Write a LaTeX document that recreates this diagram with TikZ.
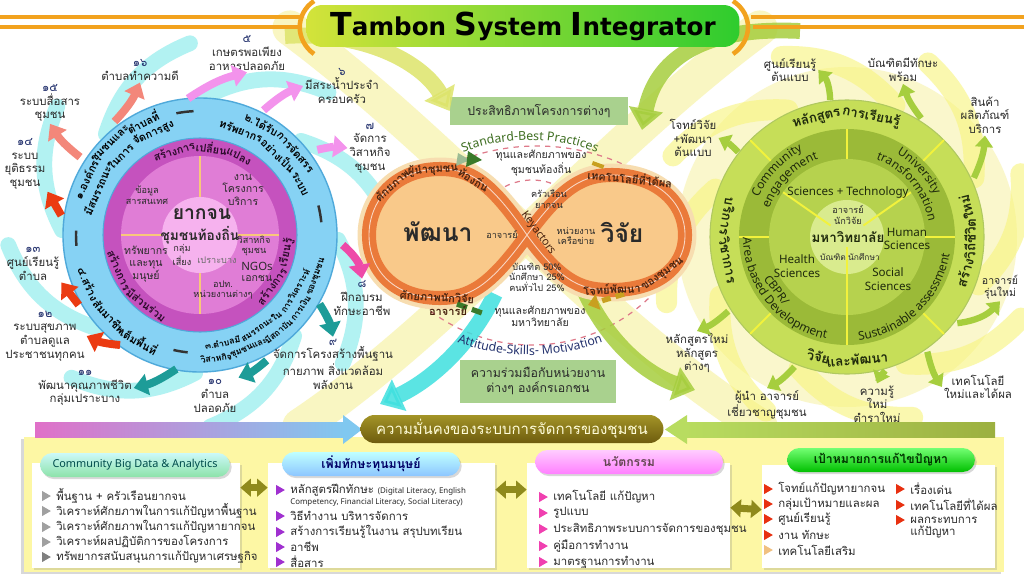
\documentclass[tikz,border=0pt]{standalone}
\usepackage{fontspec}
\setmainfont{Noto Sans}
\newfontfamily\thai[Script=Thai]{Loma}
\newfontfamily\titlefont{DejaVu Sans}
\usetikzlibrary{positioning, calc, arrows.meta, decorations.text, shapes.geometric, shadows}

\definecolor{skyring}{HTML}{86D2F4}
\definecolor{skyedge}{HTML}{4FA9DA}
\definecolor{magring}{HTML}{C552BE}
\definecolor{maginner}{HTML}{E07DD6}
\definecolor{magcore}{HTML}{F6B2EE}
\definecolor{quadline}{HTML}{F8C87A}
\definecolor{lineorange}{HTML}{F2A21E}
\definecolor{titleleft}{HTML}{D3E33A}
\definecolor{titleright}{HTML}{2ECC2E}
\definecolor{ringout}{HTML}{C6DE58}
\definecolor{ringdark}{HTML}{9BBA38}
\definecolor{ringmid}{HTML}{B6D24E}
\definecolor{ringcore}{HTML}{D9EB8E}
\definecolor{ringline}{HTML}{F2F23C}
\definecolor{ringink}{HTML}{1F2A0C}
\definecolor{leafgreen}{HTML}{A6CE3E}
\definecolor{limeband}{HTML}{DDE46A}
\definecolor{infband}{HTML}{EA7A3A}
\definecolor{inffill}{HTML}{F9C98A}
\definecolor{infglow}{HTML}{F7DDB0}
\definecolor{paleyellow}{HTML}{F6F19A}
\definecolor{swirlcyan}{HTML}{3FE0DF}
\definecolor{salmon}{HTML}{F3877A}
\definecolor{hotred}{HTML}{EB3B12}
\definecolor{arrteal}{HTML}{1D9C98}
\definecolor{hotpink}{HTML}{EE4AA8}
\definecolor{lilac}{HTML}{F393EC}
\definecolor{navy}{HTML}{24326E}
\definecolor{darktext}{HTML}{2A2A2A}
\definecolor{maginkk}{HTML}{2B0A2A}
\definecolor{bandbrown}{HTML}{4A2410}
\definecolor{boxgreen}{HTML}{A9D18E}
\definecolor{stdgreen}{HTML}{3F6F22}
\definecolor{dashpink}{HTML}{DE7A8A}
\definecolor{darkleaf}{HTML}{3A7A2A}
\definecolor{goldbar}{HTML}{C8A020}
\definecolor{panelyellow}{HTML}{FDF7A4}
\definecolor{panelolive}{HTML}{8F8A1C}
\definecolor{olivetop}{HTML}{A39427}
\definecolor{olivebottom}{HTML}{6E5C0E}
\definecolor{stripPink}{HTML}{E070C8}
\definecolor{stripBlue}{HTML}{80C8F0}
\definecolor{stripGreen}{HTML}{B8DC60}
\definecolor{stripOlive}{HTML}{9CB040}
\definecolor{bulgray}{HTML}{A0A0A0}
\definecolor{bulpurple}{HTML}{A030D0}
\definecolor{bulpink}{HTML}{F040B0}
\definecolor{bulred}{HTML}{E83010}
\definecolor{bultan}{HTML}{F0C080}

\newcommand{\outtext}[6][]{\node[ringtext, #1, rotate = #4 - 90] (#2) at ($(#3) + (#4:#5)$) {#6};}
\newcommand{\intext}[6][]{\node[ringtext, #1, rotate = #4 + 90] (#2) at ($(#3) + (#4:#5)$) {#6};}
\newcommand{\infinitypath}{(C) .. controls (490, 395) and (470, 407) .. (440, 407) .. controls (395, 407) and (369, 375) .. (369, 341) .. controls (369, 305) and (395, 278) .. (440, 278) .. controls (470, 278) and (490, 290) .. (C) .. controls (564, 392) and (585, 401) .. (612, 401) .. controls (655, 401) and (685, 375) .. (685, 341) .. controls (685, 307) and (655, 286) .. (612, 286) .. controls (585, 286) and (564, 290) .. (C) -- cycle}

\tikzset{
    every node/.style = {align = center, inner sep = 1pt},
    th/.style = {font = \thai\fontsize{6.5}{7.8}\selectfont, text = darktext},
    thin/.style = {font = \thai\fontsize{6}{7}\selectfont, text = darktext},
    thsmall/.style = {font = \thai\fontsize{5.2}{6}\selectfont, text = darktext},
    ringtext/.style = {font = \thai\bfseries\fontsize{6.2}{7}\selectfont, text = black, inner sep = 0pt},
    tinyring/.style = {font = \thai\bfseries\fontsize{5}{6}\selectfont},
    bigring/.style = {font = \thai\bfseries\fontsize{7.6}{8}\selectfont, text = ringink},
    magtext/.style = {text = maginkk},
    bandtext/.style = {font = \thai\bfseries\fontsize{6.3}{7}\selectfont, text = bandbrown, inner sep = 0pt},
    engtext/.style = {font = \fontsize{6.6}{7.6}\selectfont, text = ringink},
    fat/.style = {line width = 4.5pt, > = {Triangle[length = 8pt, width = 12pt]}},
    slim/.style = {leafgreen, line width = 3.6pt, > = {Triangle[length = 6.5pt, width = 10pt]}},
    bandarrow/.style = {line width = 9pt, opacity = 0.85, > = {Triangle[length = 12pt, width = 19pt]}},
    swirl/.style = {swirlcyan, line width = 9pt, line cap = round, opacity = 0.4},
    yswirl/.style = {paleyellow!80!yellow, line width = 12pt, line cap = round, opacity = 0.6},
    swoosh/.style = {paleyellow, line width = 20pt, line cap = round, opacity = 0.6},
    divider/.style = {ringline, line width = 1.1pt},
    sepline/.style = {black!80, line width = 1.4pt},
    greenbox/.style = {fill = boxgreen, font = \thai\fontsize{7}{8.6}\selectfont, text = darktext},
    panel/.style = {fill = white, drop shadow = {opacity = 0.25, shadow xshift = 1pt, shadow yshift = -1pt}},
    pill/.style = {rounded corners = 7pt, minimum height = 0.48cm, drop shadow = {opacity = 0.3, shadow xshift = 1pt, shadow yshift = -1.2pt}},
    bul/.style = {isosceles triangle, isosceles triangle apex angle = 60, fill = #1, minimum size = 5pt, inner sep = 0pt},
    item/.style = {th, inner sep = 0.5pt},
    dbl/.style = {panelolive, line width = 4pt, > = {Triangle[length = 6pt, width = 10pt]}},
    titlebox/.style = {rounded corners = 9pt, left color = titleleft, right color = titleright, minimum width = 8.66cm, minimum height = 0.84cm, font = \titlefont\bfseries\fontsize{14}{16}\selectfont, text = black},
    olivebox/.style = {rounded corners = 8pt, top color = olivetop, bottom color = olivebottom, minimum width = 6.06cm, minimum height = 0.56cm, font = \thai\fontsize{8.5}{10}\selectfont, text = yellow!15}
}

\begin{document}
\begin{tikzpicture}[x = 0.02cm, y = 0.02cm]
    \useasboundingbox (0, 0) rectangle (1024, 576);
    \fill[white] (0, 0) rectangle (1024, 576);
    \coordinate (L) at (200, 341);
    \coordinate (R) at (847, 339);
    \coordinate (C) at (527, 341);

    \fill[paleyellow, opacity = 0.5] (R) circle (170);
    \draw[swoosh] (300, 150) .. controls (450, 250) and (600, 430) .. (760, 548);
    \draw[swoosh] (290, 548) .. controls (450, 430) and (600, 250) .. (760, 150);

    \draw[swirl] ($(L) + (178:138)$) to[bend left = 25] ($(L) + (138:192)$);
    \draw[swirl] ($(L) + (133:138)$) to[bend left = 25] ($(L) + (93:192)$);
    \draw[swirl] ($(L) + (88:138)$) to[bend left = 25] ($(L) + (48:192)$);
    \draw[swirl] ($(L) + (43:138)$) to[bend left = 25] ($(L) + (3:192)$);
    \draw[swirl] ($(L) + (-2:138)$) to[bend left = 25] ($(L) + (-42:192)$);
    \draw[swirl] ($(L) + (-47:138)$) to[bend left = 25] ($(L) + (-87:192)$);
    \draw[swirl] ($(L) + (-92:138)$) to[bend left = 25] ($(L) + (-132:192)$);
    \draw[swirl] ($(L) + (-137:138)$) to[bend left = 25] ($(L) + (-177:192)$);

    \draw[yswirl] ($(R) + (160:140)$) to[bend right = 25] ($(R) + (200:192)$);
    \draw[yswirl] ($(R) + (115:140)$) to[bend right = 25] ($(R) + (155:192)$);
    \draw[yswirl] ($(R) + (70:140)$) to[bend right = 25] ($(R) + (110:192)$);
    \draw[yswirl] ($(R) + (25:140)$) to[bend right = 25] ($(R) + (65:192)$);
    \draw[yswirl] ($(R) + (-20:140)$) to[bend right = 25] ($(R) + (20:185)$);
    \draw[yswirl] ($(R) + (-65:140)$) to[bend right = 25] ($(R) + (-25:192)$);
    \draw[yswirl] ($(R) + (-110:140)$) to[bend right = 25] ($(R) + (-70:192)$);
    \draw[yswirl] ($(R) + (-155:140)$) to[bend right = 25] ($(R) + (-115:192)$);

    \coordinate (dashtop) at (537, 218);
    \coordinate (dashlow) at (532, 400);
    \coordinate (dashmid) at (532, 337);
    \draw[dashpink, dashed, line width = 0.7pt] ($(dashtop) + (122:212)$) arc[start angle = 122, end angle = 58, radius = 212];
    \draw[dashpink, dashed, line width = 0.7pt] ($(dashlow) + (226:169)$) arc[start angle = 226, end angle = 314, radius = 169];
    \draw[dashpink, dashed, line width = 0.7pt] ($(dashmid) + (148:59)$) arc[start angle = 148, end angle = 32, radius = 59];

    \node[greenbox, minimum width = 3.56cm, minimum height = 0.56cm] (effbox) at (539, 465) {ประสิทธิภาพโครงการต่างๆ};
    \node[greenbox, minimum width = 3.14cm, minimum height = 0.86cm] (coopbox) at (538, 195) {ความร่วมมือกับหน่วยงาน\\ต่างๆ องค์กรเอกชน};

    \coordinate (tlstart) at (285, 540);
    \coordinate (trstart) at (800, 545);
    \coordinate (trend) at (642, 446);
    \coordinate (cyanstart) at (495, 282);
    \coordinate (cyanend) at (380, 172);
    \coordinate (greenstart) at (585, 284);
    \coordinate (greenend) at (695, 186);
    \draw[bandarrow, ->, limeband] (tlstart) .. controls (370, 545) and (425, 510) .. (effbox.west);
    \draw[bandarrow, ->, leafgreen] (trstart) .. controls (700, 550) and (655, 515) .. (trend);
    \draw[bandarrow, ->, swirlcyan] (cyanstart) .. controls (470, 230) and (430, 195) .. (cyanend);
    \draw[bandarrow, ->, leafgreen] (greenstart) .. controls (610, 230) and (650, 200) .. (greenend);

    \draw[line width = 13pt, infglow] \infinitypath;
    \fill[inffill] \infinitypath;
    \draw[line width = 8pt, infband] \infinitypath;
    \draw[line width = 0.5pt, white, opacity = 0.7] \infinitypath;

    \coordinate (stdc) at (530, 254);
    \coordinate (attc) at (530, 437);
    \path[decorate, decoration = {text along path, text align = center, text = {|\bfseries\fontsize{7}{8}\selectfont\color{stdgreen}|Standard-Best Practices}}] ($(stdc) + (125:182)$) arc[start angle = 125, end angle = 55, radius = 182];
    \path[decorate, decoration = {text along path, text align = center, text = {|\bfseries\fontsize{7}{8}\selectfont\color{navy}|Attitude-Skills- Motivation}}] ($(attc) + (236:216)$) arc[start angle = 236, end angle = 304, radius = 216];

    \fill[darkleaf!50] (456, 410) -- (470, 416) -- (458, 423) -- cycle;
    \fill[darkleaf] (466, 409) -- (482, 416) -- (468, 425) -- cycle;
    \fill[goldbar, rotate around = {-20:(598, 411)}] (592, 409) rectangle (604, 413);
    \draw[darkleaf, line width = 3pt, dash pattern = on 6pt off 3pt] (457, 272) -- (482, 263);
    \draw[goldbar, line width = 3pt, dash pattern = on 5pt off 3pt, > = {Triangle[length = 6pt, width = 9pt]}, ->] (624, 282) -- (588, 271);

    \node[bandtext, rotate = 42] (leadA) at (392, 391) {ศักยภาพ};
    \node[bandtext, rotate = 4] (leadB) at (433, 406) {ผู้นำชุมชน};
    \node[bandtext, rotate = -32] (leadC) at (474, 397) {ท้องถิ่น};
    \node[bandtext, rotate = -3] (resA) at (437, 279) {ศักยภาพนักวิจัย};
    \node[bandtext] (resB) at (448, 265) {อาจารย์};
    \node[bandtext, rotate = -6] (tech) at (630, 398) {เทคโนโลยีที่ได้ผล};
    \node[bandtext, rotate = 3] (probA) at (612, 287) {โจทย์พัฒนา};
    \node[bandtext, rotate = 36] (probB) at (663, 301) {ของชุมชน};
    \node[font = \bfseries\fontsize{6.3}{8}\selectfont, text = bandbrown, rotate = -54] (key) at (538, 343) {Keyactors};
    \node[font = \thai\bfseries\fontsize{14}{15}\selectfont, text = darktext] (dev) at (438, 344) {พัฒนา};
    \node[font = \thai\bfseries\fontsize{14}{15}\selectfont, text = darktext] (rsch) at (622, 344) {วิจัย};
    \node[thsmall] (lect) at (502, 341) {อาจารย์};
    \node[thsmall] (poor) at (549, 377) {ครัวเรือน\\ยากจน};
    \node[thsmall] (agency) at (576, 340) {หน่วยงาน\\เครือข่าย};
    \node[thsmall] (ratio) at (537, 299) {บัณฑิต 50\%\\นักศึกษา 25\%\\คนทั่วไป 25\%};
    \node[thin] (capcom) at (541, 413) {ทุนและศักยภาพของ\\ชุมชนท้องถิ่น};
    \node[thin] (capuni) at (540, 260) {ทุนและศักยภาพของ\\มหาวิทยาลัย};

    \fill[skyring, draw = skyedge, line width = 0.8pt] (L) circle (137);
    \fill[magring, draw = skyedge, line width = 0.6pt] (L) circle (97);
    \fill[maginner] (L) circle (79);
    \draw[quadline, line width = 1pt] (200, 262) -- (200, 420);
    \draw[quadline, line width = 1pt] (121, 341) -- (279, 341);
    \fill[magcore] (L) circle (38);

    \outtext{loA}{L}{154}{127}{๑.องค์กร}
    \outtext{loB}{L}{134.5}{127}{ชุมชนและ}
    \outtext{loC}{L}{116.8}{127}{ตำบลที่}
    \outtext{liA}{L}{156.5}{112}{มีสมรรถนะ}
    \outtext{liB}{L}{135.2}{112}{ในการ}
    \outtext{liC}{L}{114.5}{112}{จัดการสูง}
    \outtext{loD}{L}{61}{127}{๒.ได้รับ}
    \outtext{loE}{L}{41}{127}{การจัดสรร}
    \outtext{liD}{L}{68.5}{112}{ทรัพยากร}
    \outtext{liE}{L}{45.5}{112}{อย่างเป็น}
    \outtext{liF}{L}{27}{112}{ระบบ}
    \intext[tinyring]{liG}{L}{-78.2}{110}{๓.ตำบลมี}
    \intext[tinyring]{liH}{L}{-56.2}{110}{สมรรถนะใน}
    \intext[tinyring]{liI}{L}{-30.5}{110}{การวิเคราะห์}
    \intext[tinyring]{loF}{L}{-82.5}{124}{วิสาหกิจ}
    \intext[tinyring]{loG}{L}{-66.6}{124}{ชุมชนและ}
    \intext[tinyring]{loH}{L}{-50.7}{124}{มีสถาบัน}
    \intext[tinyring]{loI}{L}{-36}{124}{การเงิน}
    \intext[tinyring]{loJ}{L}{-19.8}{124}{ของชุมชน}
    \intext{loK}{L}{203.7}{122}{๔.สร้าง}
    \intext{loL}{L}{222}{122}{สัมมาชีพ}
    \intext{loM}{L}{240.2}{122}{เต็มพื้นที่}
    \outtext[magtext]{lmA}{L}{107.2}{88}{สร้างการ}
    \outtext[magtext]{lmB}{L}{82.5}{88}{เปลี่ยน}
    \outtext[magtext]{lmC}{L}{63.7}{88}{แปลง}
    \intext[magtext]{lmD}{L}{203.5}{88}{สร้างการ}
    \intext[magtext]{lmE}{L}{232.5}{88}{มีส่วนร่วม}
    \intext[magtext]{lmF}{L}{-35.5}{88}{สร้างการ}
    \intext[magtext]{lmG}{L}{-11.7}{88}{เรียนรู้}

    \draw[sepline] ($(L) + (101:124)$) arc[start angle = 101, end angle = 93, radius = 124];
    \draw[sepline] ($(L) + (14:122)$) arc[start angle = 14, end angle = 6, radius = 122];
    \draw[sepline] ($(L) + (-96:118)$) arc[start angle = -96, end angle = -103, radius = 118];
    \draw[sepline] ($(L) + (185:124)$) arc[start angle = 185, end angle = 178, radius = 124];

    \node[font = \thai\bfseries\fontsize{11}{12}\selectfont, text = darktext] (poorA) at (202, 362) {ยากจน};
    \node[font = \thai\bfseries\fontsize{7.8}{9}\selectfont, text = darktext] (poorB) at (200, 341) {ชุมชนท้องถิ่น};
    \node[thsmall] (risk) at (182, 321) {กลุ่ม\\เสี่ยง};
    \node[thsmall, text = darktext!70] (fragile) at (217, 316) {เปราะบาง};
    \node[thsmall] (info) at (147, 381) {ข้อมูล\\สารสนเทศ};
    \node[thin] (work) at (243, 386) {งาน\\โครงการ\\บริการ};
    \node[thin] (human) at (146, 312) {ทรัพยากร\\และทุน\\มนุษย์};
    \node[thsmall] (enter) at (254, 330) {วิสาหกิจ\\ชุมชน};
    \node[font = \fontsize{6.5}{8}\selectfont, text = darktext] (ngo) at (257, 310) {NGOs};
    \node[thin] (priv) at (257, 298) {เอกชน};
    \node[thsmall] (local) at (223, 286) {อปท.\\หน่วยงานต่างๆ};

    \node[th] (l16) at (140, 506) {\textcolor{navy}{๑๖}\\ตำบลทำความดี};
    \node[th] (l5) at (247, 523) {\textcolor{navy}{๕}\\เกษตรพอเพียง\\อาหารปลอดภัย};
    \node[th] (l6) at (342, 490) {\textcolor{navy}{๖}\\มีสระน้ำประจำ\\ครอบครัว};
    \node[th] (l7) at (370, 428) {\textcolor{navy}{๗}\\จัดการ\\วิสาหกิจ\\ชุมชน};
    \node[th] (l15) at (50, 473) {\textcolor{navy}{๑๕}\\ระบบสื่อสาร\\ชุมชน};
    \node[th] (l14) at (25, 412) {\textcolor{navy}{๑๔}\\ระบบ\\ยุติธรรม\\ชุมชน};
    \node[th] (l13) at (33, 312) {\textcolor{navy}{๑๓}\\ศูนย์เรียนรู้\\ตำบล};
    \node[th] (l12) at (45, 240) {\textcolor{navy}{๑๒}\\ระบบสุขภาพ\\ตำบลดูแล\\ประชาชนทุกคน};
    \node[th] (l11) at (85, 188) {\textcolor{navy}{๑๑}\\พัฒนาคุณภาพชีวิต\\กลุ่มเปราะบาง};
    \node[th] (l10) at (215, 180) {\textcolor{navy}{๑๐}\\ตำบล\\ปลอดภัย};
    \node[th] (l9) at (333, 212) {\textcolor{navy}{๙}\\จัดการโครงสร้างพื้นฐาน\\กายภาพ สิ่งแวดล้อม\\พลังงาน};
    \node[th] (l8) at (362, 278) {\textcolor{navy}{๘}\\ฝึกอบรม\\ทักษะอาชีพ};

    \coordinate (t16) at ($(L) + (127:142)$);
    \coordinate (t15) at ($(L) + (147:143)$);
    \coordinate (t14) at ($(L) + (172:140)$);
    \coordinate (t13) at ($(L) + (210:140)$);
    \coordinate (t12) at ($(L) + (234:136)$);
    \coordinate (t11) at ($(L) + (-100:136)$);
    \coordinate (t10) at ($(L) + (-62:142)$);
    \coordinate (t9) at ($(L) + (-30:138)$);
    \coordinate (t8) at ($(L) + (-4:143)$);
    \coordinate (t7) at ($(L) + (36:145)$);
    \coordinate (t6) at ($(L) + (63:140)$);
    \coordinate (t5) at ($(L) + (95:137)$);
    \draw[fat, ->, salmon] (t16) to[bend right = 10] (l16.south);
    \draw[fat, ->, salmon] (t15) to[bend left = 10] (l15.south);
    \draw[fat, ->, hotred] (t14) -- (l14.south east);
    \draw[fat, ->, hotred] (t13) -- (l13.south east);
    \draw[fat, ->, hotred] (t12) to[bend left = 10] (l12.east);
    \draw[fat, ->, arrteal] (t11) to[bend left = 10] (l11.east);
    \draw[fat, ->, arrteal] (t10) to[bend left = 10] (l10.north east);
    \draw[fat, ->, arrteal] (t9) to[bend left = 10] (l9.north);
    \draw[fat, ->, hotpink] (t8) to[bend left = 20] (l8.north);
    \draw[fat, ->, lilac] (t7) to[bend left = 10] (l7.west);
    \draw[fat, ->, lilac] (t6) to[bend left = 10] (l6.west);
    \draw[fat, ->, lilac] (t5) to[bend left = 10] (l5.south);

    \fill[ringout, draw = ringdark!80, line width = 0.6pt] (R) circle (137);
    \fill[ringdark] (R) circle (108);
    \fill[ringmid] (R) circle (78);
    \fill[ringcore] (R) circle (37);
    \draw[divider] ($(R) + (45:108)$) -- ($(R) + (45:137)$);
    \draw[divider] ($(R) + (135:108)$) -- ($(R) + (135:137)$);
    \draw[divider] ($(R) + (225:108)$) -- ($(R) + (225:137)$);
    \draw[divider] ($(R) + (315:108)$) -- ($(R) + (315:137)$);
    \draw[divider] ($(R) + (90:78)$) -- ($(R) + (90:108)$);
    \draw[divider] ($(R) + (180:78)$) -- ($(R) + (180:108)$);
    \draw[divider] ($(R) + (0:78)$) -- ($(R) + (0:108)$);
    \draw[divider] ($(R) + (270:10)$) -- ($(R) + (270:108)$);
    \draw[divider] ($(R) + (145:20)$) -- ($(R) + (145:78)$);
    \draw[divider] ($(R) + (35:20)$) -- ($(R) + (35:78)$);

    \outtext[bigring]{roA}{R}{104.4}{123}{หลักสูตร}
    \outtext[bigring]{roB}{R}{78.6}{123}{การเรียนรู้}
    \intext[bigring]{roC}{R}{170.4}{121}{บริการ}
    \intext[bigring]{roD}{R}{191}{121}{วิชาการ}
    \intext[bigring]{roE}{R}{-17}{123}{สร้าง}
    \intext[bigring]{roF}{R}{-0.8}{123}{วิถีชีวิต}
    \intext[bigring]{roG}{R}{14}{123}{ใหม่}
    \intext[bigring]{roH}{R}{-103.4}{123}{วิจัย}
    \intext[bigring]{roI}{R}{-85.2}{123}{และพัฒนา}

    \path[decorate, decoration = {text along path, text align = center, text = {|\bfseries\fontsize{6.8}{7.5}\selectfont\color{ringink}|Community}}] ($(R) + (166:97)$) arc[start angle = 166, end angle = 107, radius = 97];
    \path[decorate, decoration = {text along path, text align = center, text = {|\bfseries\fontsize{6.8}{7.5}\selectfont\color{ringink}|engagement}}] ($(R) + (170:83)$) arc[start angle = 170, end angle = 100, radius = 83];
    \path[decorate, decoration = {text along path, text align = center, text = {|\bfseries\fontsize{6.8}{7.5}\selectfont\color{ringink}|University}}] ($(R) + (75:97)$) arc[start angle = 75, end angle = 10, radius = 97];
    \path[decorate, decoration = {text along path, text align = center, text = {|\bfseries\fontsize{6.8}{7.5}\selectfont\color{ringink}|transformation}}] ($(R) + (85:83)$) arc[start angle = 85, end angle = -5, radius = 83];
    \path[decorate, decoration = {text along path, text align = center, text = {|\bfseries\fontsize{6.8}{7.5}\selectfont\color{ringink}|Area based Development}}] ($(R) + (170:104)$) arc[start angle = 170, end angle = 269, radius = 104];
    \path[decorate, decoration = {text along path, text align = center, text = {|\bfseries\fontsize{6.8}{7.5}\selectfont\color{ringink}|Sustainable assessment}}] ($(R) + (-98:104)$) arc[start angle = -98, end angle = 5, radius = 104];
    \node[font = \bfseries\fontsize{6.6}{7.5}\selectfont, text = ringink, rotate = -53] (cbpr) at ($(R) + (217:88)$) {CBPR/};

    \node[engtext] (scitech) at (848, 384) {Sciences + Technology};
    \node[engtext] (health) at (797, 310) {Health\\Sciences};
    \node[engtext] (humsci) at (907, 337) {Human\\Sciences};
    \node[engtext] (socsci) at (888, 297) {Social\\Sciences};
    \node[thsmall] (staff) at (848, 361) {อาจารย์\\นักวิจัย};
    \node[font = \thai\bfseries\fontsize{7.6}{9}\selectfont, text = ringink] (univ) at (848, 339) {มหาวิทยาลัย};
    \node[font = \thai\fontsize{4.8}{6}\selectfont, text = darktext] (grad) at (833, 319) {บัณฑิต};
    \node[font = \thai\fontsize{4.8}{6}\selectfont, text = darktext] (stud) at (864, 319) {นักศึกษา};

    \node[th] (r1) at (790, 506) {ศูนย์เรียนรู้\\ต้นแบบ};
    \node[th] (r2) at (903, 506) {บัณฑิตมีทักษะ\\พร้อม};
    \node[th] (r3) at (985, 461) {สินค้า\\ผลิตภัณฑ์\\บริการ};
    \node[th] (r4) at (693, 438) {โจทย์วิจัย\\+พัฒนา\\ต้นแบบ};
    \node[th, font = \thai\fontsize{6}{7}\selectfont] (r5) at (1000, 289) {อาจารย์\\รุ่นใหม่};
    \node[th] (r6) at (978, 189) {เทคโนโลยี\\ใหม่และได้ผล};
    \node[th] (r7) at (877, 172) {ความรู้\\ใหม่\\ตำราใหม่};
    \node[th] (r8) at (767, 171) {ผู้นำ อาจารย์\\เชี่ยวชาญชุมชน};
    \node[th] (r9) at (697, 223) {หลักสูตรใหม่\\หลักสูตร\\ต่างๆ};

    \coordinate (tr1) at ($(R) + (97:138)$);
    \coordinate (tr2) at ($(R) + (58:140)$);
    \coordinate (tr3) at ($(R) + (25:140)$);
    \coordinate (tr4) at ($(R) + (142:138)$);
    \coordinate (tr5) at ($(R) + (-38:140)$);
    \coordinate (tr6) at ($(R) + (-55:140)$);
    \coordinate (tr7) at ($(R) + (-74:139)$);
    \coordinate (tr8) at ($(R) + (-112:140)$);
    \coordinate (tr9) at ($(R) + (-148:140)$);
    \draw[slim, ->] (tr1) to[bend right = 20] (r1.east);
    \draw[slim, ->] (tr2) to[bend left = 10] (r2.south);
    \draw[slim, ->] (tr3) to[bend right = 10] (r3.south);
    \draw[slim, ->] (tr4) to[bend right = 10] (r4.east);
    \draw[slim, ->] (tr5) to[bend right = 20] (r5.south);
    \draw[slim, ->] (tr6) to[bend right = 10] (r6.west);
    \draw[slim, ->] (tr7) to[bend right = 10] (r7.north);
    \draw[slim, ->] (tr8) to[bend left = 10] (r8.north);
    \draw[slim, ->] (tr9) to[bend left = 10] (r9.north);

    \fill[panelyellow, drop shadow = {opacity = 0.3, shadow xshift = -1.5pt, shadow yshift = -1pt}] (24, 4) rectangle (1004, 139);
    \shade[left color = stripPink, right color = stripBlue] (35, 139) rectangle (345, 154);
    \fill[stripBlue] (343, 161) -- (362, 146.5) -- (343, 132) -- cycle;
    \shade[left color = stripGreen, right color = stripOlive] (685, 139) rectangle (995, 154);
    \fill[stripGreen] (687, 161) -- (665, 146.5) -- (687, 132) -- cycle;
    \node[olivebox] (secure) at (512, 147) {ความมั่นคงของระบบการจัดการของชุมชน};

    \node[panel, minimum width = 4.16cm, minimum height = 2.1cm] (box1) at (136, 60.5) {};
    \node[panel, minimum width = 4.54cm, minimum height = 2.1cm] (box2) at (381.5, 60.5) {};
    \node[panel, minimum width = 4.06cm, minimum height = 2.1cm] (box3) at (628.5, 60.5) {};
    \node[panel, minimum width = 4.66cm, minimum height = 2.06cm] (box4) at (878.5, 59.5) {};

    \node[pill, top color = teal!25!cyan!20, bottom color = teal!50!green!45, minimum width = 3.8cm, font = \bfseries\fontsize{6.2}{7}\selectfont, text = teal!60!black] (pill1) at (135, 111) {Community Big Data \& Analytics};
    \node[pill, top color = cyan!25, bottom color = cyan!50!blue!45, minimum width = 3.56cm, font = \thai\bfseries\fontsize{7}{8}\selectfont, text = blue!40!black] (pill2) at (371, 112) {เพิ่มทักษะทุนมนุษย์};
    \node[pill, top color = magenta!20, bottom color = magenta!50, minimum width = 3.76cm, font = \thai\bfseries\fontsize{7}{8}\selectfont, text = magenta!30!black] (pill3) at (629, 114) {นวัตกรรม};
    \node[pill, top color = green!55, bottom color = green!75!black, minimum width = 3.76cm, font = \thai\bfseries\fontsize{7}{8}\selectfont, text = green!20!black] (pill4) at (881, 116) {เป้าหมายการแก้ไขปัญหา};

    \node[bul = bulgray] (b11) at (45, 80) {};
    \node[item, right = 2pt of b11] (i11) {พื้นฐาน + ครัวเรือนยากจน};
    \node[bul = bulgray] (b12) at (45, 65) {};
    \node[item, right = 2pt of b12] (i12) {วิเคราะห์ศักยภาพในการแก้ปัญหาพื้นฐาน};
    \node[bul = bulgray] (b13) at (45, 49) {};
    \node[item, right = 2pt of b13] (i13) {วิเคราะห์ศักยภาพในการแก้ปัญหายากจน};
    \node[bul = bulgray] (b14) at (45, 34) {};
    \node[item, right = 2pt of b14] (i14) {วิเคราะห์ผลปฏิบัติการของโครงการ};
    \node[bul = gray] (b15) at (45, 19) {};
    \node[item, right = 2pt of b15] (i15) {ทรัพยากรสนับสนุนการแก้ปัญหาเศรษฐกิจ};

    \node[bul = bulpurple] (b21) at (279, 86) {};
    \node[item, right = 2pt of b21] (i21) {หลักสูตรฝึกทักษะ {\rmfamily\fontsize{4.5}{5.5}\selectfont (Digital Literacy, English}};
    \node[item, font = \rmfamily\fontsize{4.5}{5.5}\selectfont, anchor = north west] (i21b) at (i21.south west) {Competency, Financial Literacy, Social Literacy)};
    \node[bul = bulpurple] (b22) at (279, 60) {};
    \node[item, right = 2pt of b22] (i22) {วิธีทำงาน บริหารจัดการ};
    \node[bul = bulpurple] (b23) at (279, 44) {};
    \node[item, right = 2pt of b23] (i23) {สร้างการเรียนรู้ในงาน สรุปบทเรียน};
    \node[bul = bulpurple] (b24) at (279, 29) {};
    \node[item, right = 2pt of b24] (i24) {อาชีพ};
    \node[bul = bulpurple] (b25) at (279, 14) {};
    \node[item, right = 2pt of b25] (i25) {สื่อสาร};

    \node[bul = bulpink] (b31) at (542, 79) {};
    \node[item, right = 2pt of b31] (i31) {เทคโนโลยี แก้ปัญหา};
    \node[bul = bulpink] (b32) at (542, 63) {};
    \node[item, right = 2pt of b32] (i32) {รูปแบบ};
    \node[bul = bulpink] (b33) at (542, 47) {};
    \node[item, right = 2pt of b33] (i33) {ประสิทธิภาพระบบการจัดการของชุมชน};
    \node[bul = bulpink] (b34) at (542, 30) {};
    \node[item, right = 2pt of b34] (i34) {คู่มือการทำงาน};
    \node[bul = bulpink] (b35) at (542, 14) {};
    \node[item, right = 2pt of b35] (i35) {มาตรฐานการทำงาน};

    \node[bul = bulred] (b41) at (767, 87) {};
    \node[item, right = 2pt of b41] (i41) {โจทย์แก้ปัญหายากจน};
    \node[bul = bulred] (b42) at (767, 72) {};
    \node[item, right = 2pt of b42] (i42) {กลุ่มเป้าหมายและผล};
    \node[bul = bulred] (b43) at (767, 57) {};
    \node[item, right = 2pt of b43] (i43) {ศูนย์เรียนรู้};
    \node[bul = bulred] (b44) at (767, 41) {};
    \node[item, right = 2pt of b44] (i44) {งาน ทักษะ};
    \node[bul = bultan] (b45) at (767, 26) {};
    \node[item, right = 2pt of b45] (i45) {เทคโนโลยีเสริม};
    \node[bul = bulred] (b46) at (899, 87) {};
    \node[item, right = 2pt of b46] (i46) {เรื่องเด่น};
    \node[bul = bulred] (b47) at (899, 71) {};
    \node[item, right = 2pt of b47] (i47) {เทคโนโลยีที่ได้ผล};
    \node[bul = bulred] (b48) at (899, 56) {};
    \node[item, right = 2pt of b48] (i48) {ผลกระทบการ};
    \node[item, anchor = north west] (i48b) at (i48.south west) {แก้ปัญหา};

    \draw[dbl, <->] ([yshift = -0.5cm] box1.north east) -- ([yshift = -0.5cm] box2.north west);
    \draw[dbl, <->] ([yshift = -0.54cm] box2.north east) -- ([yshift = -0.54cm] box3.north west);
    \draw[dbl, <->] ([yshift = -0.9cm] box3.north east) -- ([yshift = -0.9cm] box4.north west);

    \draw[lineorange, line width = 1.8pt] (0, 559) -- (300, 559);
    \draw[lineorange, line width = 1.8pt] (0, 549) -- (298, 549);
    \draw[lineorange, line width = 1.8pt] (751, 559) -- (1024, 559);
    \draw[lineorange, line width = 1.8pt] (753, 549) -- (1024, 549);
    \draw[lineorange, line width = 2.6pt] (314, 575) .. controls (295, 562) and (295, 536) .. (314, 522);
    \draw[lineorange, line width = 2.6pt] (733, 575) .. controls (753, 562) and (753, 536) .. (733, 522);
    \node[titlebox] (title) at (523, 550) {{\fontsize{18}{18}\selectfont T}ambon {\fontsize{18}{18}\selectfont S}ystem {\fontsize{18}{18}\selectfont I}ntegrator};
\end{tikzpicture}
\end{document}
